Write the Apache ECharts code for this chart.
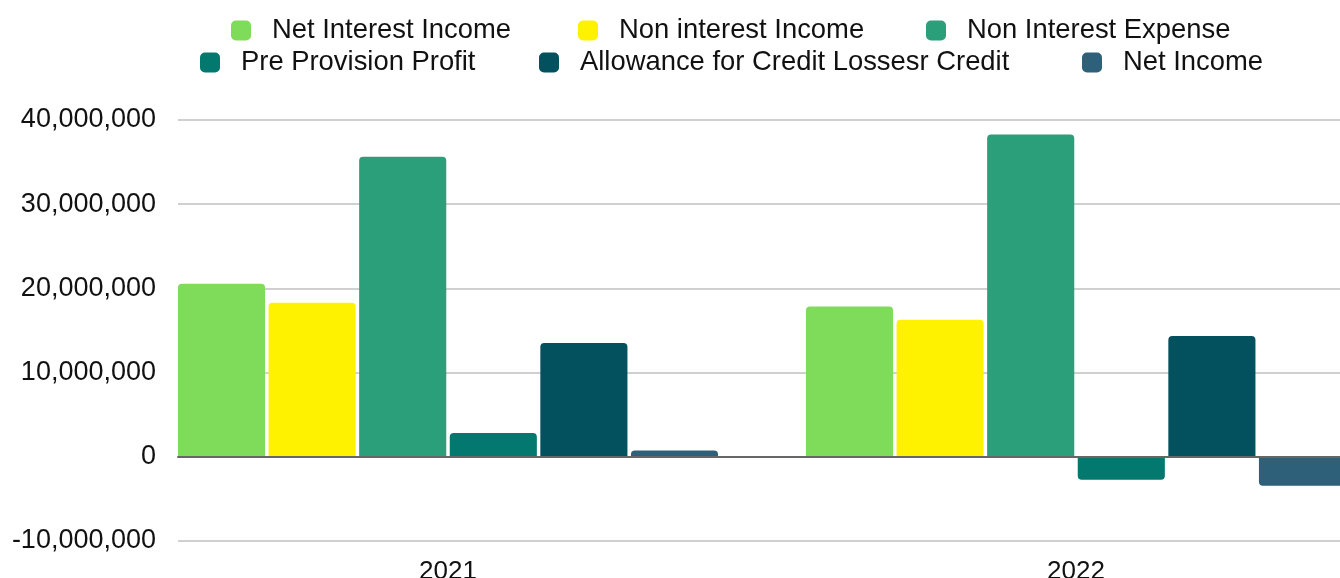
<!DOCTYPE html>
<html>
<head>
<meta charset="utf-8">
<script src="https://cdn.jsdelivr.net/npm/echarts@6/dist/echarts.min.js"></script>
<style>
html,body{margin:0;padding:0;background:#fff;}
#chart{width:1340px;height:578px;}
</style>
</head>
<body>
<div id="chart"></div>
<script>
var categories = ['2021', '2022'];
var seriesNames = ['Net Interest Income', 'Non interest Income', 'Non Interest Expense', 'Pre Provision Profit', 'Allowance for Credit Lossesr Credit', 'Net Income'];
var netInterestIncome = [20550000, 17840000];
var nonInterestIncome = [18300000, 16290000];
var nonInterestExpense = [35650000, 38290000];
var preProvisionProfit = [2830000, -2730000];
var allowanceCredit = [13520000, 14350000];
var netIncome = [750000, -3450000];
var yTicks = [-10000000, 0, 10000000, 20000000, 30000000, 40000000];
var colors = ['#7fdb5a', '#fff200', '#2a9f7a', '#03786f', '#03505e', '#2e6079'];

var allValues = [netInterestIncome, nonInterestIncome, nonInterestExpense, preProvisionProfit, allowanceCredit, netIncome];

var legendPos = [
  {left: 231, top: 17}, {left: 578, top: 17}, {left: 926, top: 17},
  {left: 200, top: 49}, {left: 539, top: 49}, {left: 1082, top: 49}
];

var fontFam = '"Liberation Sans", Arial, sans-serif';

var legends = seriesNames.map(function (n, i) {
  return {
    data: [n],
    left: legendPos[i].left,
    top: legendPos[i].top,
    padding: 0,
    itemWidth: 20,
    itemHeight: 20,
    icon: 'roundRect',
    selectedMode: false,
    textStyle: {fontSize: 27.4, color: '#111', fontFamily: fontFam, padding: [0, 0, 0, 16]}
  };
});

var series = seriesNames.map(function (n, i) {
  return {
    name: n,
    type: 'bar',
    xAxisIndex: 1,
    yAxisIndex: 1,
    barGap: '4%',
    barCategoryGap: '14%',
    itemStyle: {color: colors[i]},
    data: allValues[i].map(function (v) {
      return {value: v, itemStyle: {borderRadius: v >= 0 ? [4, 4, 0, 0] : [0, 0, 4, 4]}};
    })
  };
});

var chart = echarts.init(document.getElementById('chart'));
chart.setOption({
  animation: false,
  legend: legends,
  grid: [
    {left: 178, right: 0, top: 120, height: 421, containLabel: false, outerBoundsMode: 'none'},
    {left: 134, width: 1256, top: 120, height: 421, containLabel: false, outerBoundsMode: 'none'}
  ],
  xAxis: [
    {gridIndex: 0, type: 'category', data: categories, z: 5,
     axisLine: {show: true, onZero: true, lineStyle: {color: '#666', width: 2}},
     axisTick: {show: false}, axisLabel: {show: false}, splitLine: {show: false}},
    {gridIndex: 1, type: 'category', data: categories,
     axisLine: {show: false, onZero: false}, axisTick: {show: false},
     axisLabel: {fontSize: 26, color: '#111', fontFamily: fontFam, margin: 18}}
  ],
  yAxis: [
    {gridIndex: 0, type: 'value', min: yTicks[0], max: yTicks[yTicks.length - 1], interval: 10000000,
     axisLine: {show: false}, axisTick: {show: false},
     axisLabel: {fontSize: 27, color: '#111', fontFamily: fontFam, margin: 22,
       formatter: function (v) { return v.toLocaleString('en-US'); }},
     splitLine: {show: true, lineStyle: {color: '#c0c0c0', width: 1.5}}},
    {gridIndex: 1, type: 'value', min: yTicks[0], max: yTicks[yTicks.length - 1], interval: 10000000,
     show: false, splitLine: {show: false}}
  ],
  series: series
});
</script>
</body>
</html>
